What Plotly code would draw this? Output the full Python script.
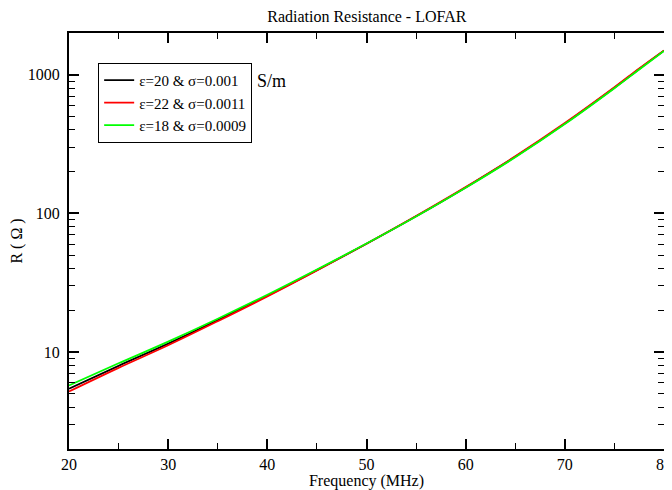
import plotly.graph_objects as go

# frequency (MHz)
freq = [20, 25, 30, 35, 40, 45, 50, 55, 60, 65, 70, 75, 77.5, 80]

# radiation resistance (ohm) for the three ground models
r_eps20 = [5.45, 7.96, 11.5, 17.0, 25.5, 39.0, 60.4, 95.3, 154, 256, 444, 805, 1100, 1490]
r_eps22 = [5.2, 7.7, 11.2, 16.7, 25.2, 38.8, 60.5, 95.8, 155, 258, 448, 812, 1110, 1498]
r_eps18 = [5.75, 8.3, 11.9, 17.4, 25.9, 39.4, 60.6, 95.0, 153, 254, 441, 800, 1092, 1485]

names = ["ε=20 & σ=0.001", "ε=22 & σ=0.0011", "ε=18 & σ=0.0009"]
colors = ["black", "red", "#00ff00"]

y_ticks = [10, 100, 1000]
x_ticks = [20, 30, 40, 50, 60, 70, 80]

FONT = "Liberation Serif"

fig = go.Figure()
for r, name, c in zip([r_eps20, r_eps22, r_eps18], names, colors):
    fig.add_trace(go.Scatter(x=freq, y=r, mode="lines", name=name,
                             line=dict(color=c, width=1.8, shape="spline", smoothing=1.0)))

# page body adds 8px around the plot, so shift margins to compensate
fig.update_layout(
    width=672, height=482,
    margin=dict(l=61, r=16, t=25, b=41),
    paper_bgcolor="white", plot_bgcolor="white",
    font=dict(family=FONT, size=16, color="black"),
    title=dict(text="Radiation Resistance - LOFAR", x=0.534, xanchor="center",
               y=0.982, yanchor="middle", font=dict(family=FONT, size=16)),
    legend=dict(x=0.049, y=0.928, xanchor="left", yanchor="top",
                bgcolor="white", bordercolor="black", borderwidth=1,
                font=dict(family=FONT, size=15), tracegroupgap=0),
    showlegend=True,
)

fig.add_annotation(text="S/m", x=0.341, y=0.885, xref="paper", yref="paper",
                   showarrow=False, font=dict(family=FONT, size=18),
                   xanchor="center", yanchor="middle")

fig.update_xaxes(
    range=[20, 80], tickvals=x_ticks, ticks="inside", ticklen=10,
    showline=True, linecolor="black", linewidth=2, mirror="ticks",
    showgrid=False, zeroline=False, tickcolor="black", tickwidth=2,
    automargin=False, ticklabelstandoff=0, ticklabeloverflow="allow",
    minor=dict(ticks="inside", ticklen=6, dtick=5, tickcolor="black", tickwidth=1, showgrid=False),
    title=dict(text="Frequency (MHz)", standoff=0, font=dict(family=FONT, size=16)),
)
fig.update_yaxes(
    type="log", range=[0.301, 3.301], tickvals=y_ticks, ticktext=[str(v) for v in y_ticks],
    ticks="inside", ticklen=10,
    showline=True, linecolor="black", linewidth=2, mirror="ticks",
    showgrid=False, zeroline=False, tickcolor="black", tickwidth=2,
    automargin=False, ticklabelstandoff=4,
    minor=dict(ticks="inside", ticklen=6, dtick="D1", tickcolor="black", tickwidth=1, showgrid=False),
    title=dict(text="R ( Ω )", standoff=5, font=dict(family=FONT, size=16)),
)

fig.write_html("out.html")
